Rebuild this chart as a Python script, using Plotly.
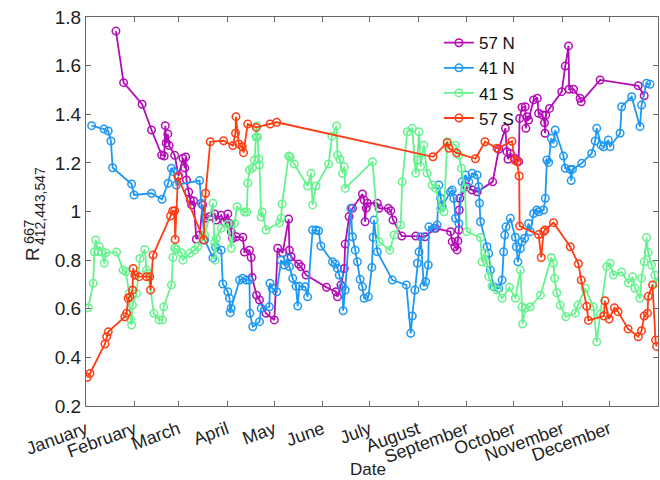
import pandas as pd
import plotly.graph_objects as go

# day offsets from 1 January, and R values
doy_57N = [19.1, 24.0, 35.8, 41.8, 48.3, 49.9, 50.6, 51.2, 52.2, 53.1, 56.6, 59.0, 61.9, 63.0, 63.6, 64.1,
           65.5, 66.6, 67.4, 68.7, 70.4, 72.5, 74.4, 76.3, 78.9, 82.1, 83.1, 86.3, 88.4, 90.5, 91.6, 92.7,
           93.5, 95.9, 100.1, 101.1, 104.3, 105.4, 106.0, 108.8, 110.7, 114.9, 120.2, 122.3, 125.5, 129.3,
           129.8, 130.9, 135.7, 137.2, 140.4, 153.5, 159.5, 160.5, 162.7, 164.8, 165.4, 167.9, 170.0, 176.4,
           177.5, 178.1, 178.8, 179.6, 185.9, 187.0, 192.9, 194.5, 195.9, 201.5, 210.4, 216.3, 223.1, 232.6,
           233.7, 235.4, 236.8, 237.3, 237.9, 238.2, 238.5, 243.2, 246.4, 249.6, 259.5, 263.4, 267.6, 268.6,
           269.3, 270.8, 273.5, 276.1, 276.7, 278.2, 280.3, 280.7, 281.4, 282.4, 285.6, 288.0, 288.8, 291.3,
           292.6, 292.9, 293.4, 295.8, 303.6, 305.8, 307.9, 308.3, 311.1, 315.3, 316.0, 328.1, 352.4, 356.2]
val_57N = [1.742, 1.530, 1.441, 1.335, 1.232, 1.228, 1.353, 1.282, 1.319, 1.271, 1.231, 1.147, 1.219, 1.179,
           1.224, 1.130, 1.080, 1.047, 1.027, 1.043, 0.886, 0.903, 1.027, 0.973, 0.979, 0.990, 0.965, 0.985,
           0.957, 0.990, 0.951, 0.917, 0.890, 0.896, 0.894, 0.833, 0.841, 0.811, 0.729, 0.656, 0.636, 0.581,
           0.554, 0.849, 0.830, 0.969, 0.841, 0.814, 0.784, 0.773, 0.739, 0.688, 0.670, 0.649, 0.698, 0.766,
           0.866, 0.979, 1.013, 1.072, 1.047, 0.958, 1.014, 1.034, 1.034, 1.013, 1.013, 1.003, 0.965, 0.899,
           0.899, 0.896, 0.931, 0.917, 0.876, 0.855, 0.842, 0.879, 0.924, 1.006, 1.054, 1.102, 1.088, 1.081,
           1.122, 1.256, 1.342, 1.246, 1.215, 1.239, 1.219, 1.205, 1.383, 1.429, 1.431, 1.342, 1.390, 1.376,
           1.459, 1.466, 1.404, 1.397, 1.365, 1.322, 1.397, 1.424, 1.493, 1.598, 1.681, 1.503, 1.503, 1.466,
           1.451, 1.541, 1.517, 1.476]

doy_41N = [3.6, 11.5, 14.2, 15.9, 17.0, 29.1, 30.7, 41.8, 48.5, 52.4, 54.5, 56.0, 57.7, 72.5, 73.6, 75.7,
           81.0, 82.7, 86.3, 87.3, 90.5, 91.6, 92.0, 92.6, 98.0, 100.1, 102.2, 104.3, 104.6, 106.4, 110.7,
           111.8, 117.0, 117.4, 118.8, 121.7, 124.5, 126.6, 128.7, 129.8, 131.9, 134.0, 135.1, 136.1, 139.9,
           141.4, 144.6, 146.8, 148.4, 149.9, 157.3, 159.0, 160.5, 161.6, 163.7, 164.1, 165.4, 169.0, 170.0,
           171.8, 173.2, 174.9, 176.4, 177.5, 180.2, 182.4, 183.2, 183.8, 185.9, 195.5, 204.4, 207.2, 208.2,
           209.9, 211.4, 212.5, 213.5, 215.6, 216.7, 218.4, 218.8, 222.0, 224.1, 225.2, 226.3, 227.3, 232.6,
           233.7, 234.7, 235.8, 237.9, 240.0, 242.2, 244.3, 246.4, 249.6, 250.6, 251.1, 251.7, 255.9, 257.0,
           258.1, 260.2, 263.4, 265.5, 266.5, 267.2, 268.0, 270.8, 274.0, 274.6, 275.6, 277.2, 278.2, 279.9,
           282.4, 283.5, 285.6, 287.7, 288.8, 292.0, 293.1, 294.1, 295.2, 296.9, 298.3, 299.4, 304.7, 305.8,
           309.0, 309.6, 310.4, 316.3, 322.7, 324.9, 325.9, 328.7, 330.2, 333.3, 334.4, 340.8, 341.8, 348.2,
           353.5, 354.5, 357.7, 359.9]
val_41N = [1.353, 1.339, 1.331, 1.290, 1.180, 1.113, 1.068, 1.075, 1.050, 1.116, 1.178, 1.164, 1.109, 1.127,
           1.034, 0.883, 0.809, 0.854, 0.841, 0.702, 0.670, 0.643, 0.584, 0.602, 0.718, 0.725, 0.718, 0.718,
           0.581, 0.526, 0.547, 0.602, 0.608, 0.705, 0.684, 0.670, 0.800, 0.780, 0.807, 0.773, 0.725, 0.693,
           0.611, 0.693, 0.690, 0.649, 0.924, 0.924, 0.921, 0.858, 0.793, 0.784, 0.766, 0.739, 0.690, 0.592,
           0.677, 1.013, 0.896, 0.841, 0.793, 0.721, 0.690, 0.643, 0.649, 0.770, 0.894, 0.965, 0.834, 0.718,
           0.698, 0.499, 0.570, 0.677, 0.787, 0.834, 0.896, 0.693, 0.711, 0.780, 0.937, 0.931, 0.944, 1.109,
           1.054, 1.020, 1.081, 1.088, 1.054, 0.972, 0.951, 1.122, 1.150, 1.122, 1.157, 1.150, 1.102, 1.034,
           0.958, 0.855, 0.828, 0.759, 0.691, 0.684, 0.718, 0.834, 0.903, 0.937, 0.972, 0.894, 0.855, 0.793,
           0.848, 0.876, 0.890, 0.951, 0.917, 0.992, 1.006, 0.999, 1.006, 1.054, 1.212, 1.202, 1.301, 1.280,
           1.335, 1.228, 1.178, 1.173, 1.127, 1.173, 1.198, 1.239, 1.290, 1.342, 1.273, 1.266, 1.294, 1.266,
           1.322, 1.431, 1.472, 1.349, 1.438, 1.527, 1.523]

doy_41S = [1.5, 4.6, 5.3, 6.2, 7.8, 8.5, 10.0, 11.6, 12.7, 19.5, 23.7, 25.4, 27.5, 28.4, 29.1, 29.7, 32.3,
           34.4, 37.5, 38.6, 39.6, 43.3, 46.6, 48.8, 49.6, 54.5, 55.5, 56.6, 57.7, 60.9, 61.9, 66.2, 69.3,
           71.4, 74.6, 75.7, 81.0, 82.1, 82.4, 83.1, 86.3, 90.5, 92.7, 94.8, 96.4, 101.1, 102.6, 103.2, 104.3,
           106.2, 107.5, 108.5, 109.0, 109.4, 110.2, 110.7, 111.8, 112.4, 114.9, 123.4, 124.5, 125.1, 129.3,
           130.2, 132.9, 141.4, 143.6, 144.6, 146.8, 154.8, 156.9, 159.9, 160.5, 162.0, 163.7, 164.8, 165.4,
           182.8, 187.0, 193.8, 196.6, 200.8, 201.8, 205.0, 208.2, 210.4, 211.4, 212.5, 213.5, 215.6, 217.7,
           220.9, 223.1, 226.3, 228.4, 230.5, 235.8, 237.9, 239.6, 241.7, 243.0, 251.7, 252.7, 254.5, 255.9,
           257.0, 259.1, 262.3, 265.5, 270.2, 274.0, 277.2, 278.2, 278.6, 280.3, 283.5, 290.0, 296.9, 298.3,
           299.0, 300.4, 302.6, 306.2, 312.2, 313.9, 318.5, 323.8, 325.9, 328.1, 332.3, 334.4, 336.5, 341.8,
           346.1, 348.8, 350.3, 353.5, 354.5, 356.2, 357.7, 358.7, 360.9, 363.0, 364.2]
val_41S = [0.604, 0.705, 0.834, 0.883, 0.834, 0.855, 0.834, 0.787, 0.830, 0.833, 0.759, 0.752, 0.663, 0.556,
           0.533, 0.615, 0.663, 0.807, 0.844, 0.759, 0.746, 0.581, 0.554, 0.554, 0.608, 0.698, 0.811, 0.849,
           0.844, 0.830, 0.800, 0.828, 0.841, 0.855, 0.896, 0.903, 1.034, 0.872, 0.800, 0.890, 0.931, 0.948,
           0.849, 0.951, 1.020, 0.998, 0.998, 1.117, 1.171, 1.179, 1.212, 1.306, 1.352, 1.306, 1.216, 1.191,
           0.977, 0.998, 0.924, 0.953, 0.973, 1.031, 1.228, 1.224, 1.195, 1.105, 1.157, 1.027, 1.105, 1.195,
           1.310, 1.352, 1.232, 1.215, 1.157, 1.184, 1.095, 1.205, 0.876, 0.841, 0.903, 0.944, 1.122, 1.328,
           1.342, 1.157, 1.212, 1.328, 1.184, 1.273, 1.157, 1.109, 1.095, 1.013, 0.999, 1.287, 1.273, 1.232,
           1.178, 1.095, 0.917, 0.893, 0.793, 0.828, 0.787, 0.732, 0.693, 0.677, 0.643, 0.688, 0.643, 0.759,
           0.608, 0.537, 0.602, 0.608, 0.656, 0.811, 0.787, 0.725, 0.666, 0.615, 0.567, 0.582, 0.615, 0.684,
           0.608, 0.464, 0.578, 0.773, 0.787, 0.739, 0.751, 0.706, 0.732, 0.684, 0.643, 0.725, 0.793, 0.893,
           0.831, 0.780, 0.739, 0.706]

doy_57S = [0.8, 2.5, 12.1, 13.2, 14.2, 24.8, 25.9, 26.9, 28.0, 29.7, 30.1, 31.2, 33.9, 38.6, 40.7, 41.2,
           42.8, 53.9, 55.3, 56.6, 56.9, 58.7, 75.1, 76.3, 79.3, 87.8, 93.7, 95.4, 95.7, 97.5, 99.7, 100.5,
           103.2, 108.6, 117.5, 121.7, 221.4, 230.5, 231.6, 236.5, 248.5, 254.6, 262.3, 271.8, 273.5, 275.0,
           276.4, 276.7, 288.8, 290.5, 292.0, 292.9, 298.3, 309.0, 314.2, 316.0, 319.5, 320.6, 330.5, 331.1,
           333.8, 337.2, 339.5, 345.9, 352.4, 354.5, 356.2, 358.3, 358.8, 361.5, 363.4, 364.1]
val_57S = [0.318, 0.334, 0.455, 0.485, 0.505, 0.567, 0.581, 0.643, 0.649, 0.677, 0.766, 0.739, 0.732, 0.732,
           0.732, 0.677, 0.821, 0.981, 1.002, 1.003, 0.885, 1.143, 0.883, 1.075, 1.287, 1.291, 1.271, 1.322,
           1.390, 1.278, 1.266, 1.242, 1.360, 1.346, 1.360, 1.367, 1.225, 1.283, 1.260, 1.241, 1.217, 1.287,
           1.260, 1.289, 1.212, 1.205, 1.146, 0.940, 0.905, 0.811, 0.917, 0.924, 0.954, 0.855, 0.785, 0.718,
           0.610, 0.552, 0.570, 0.633, 0.558, 0.604, 0.588, 0.517, 0.485, 0.510, 0.570, 0.582, 0.651, 0.698,
           0.471, 0.445]

month_ticks = ["January", "February", "March", "April", "May", "June", "July", "August",
               "September", "October", "November", "December", "January"]

series = [
    ("57 N", doy_57N, val_57N, "#B30DB8"),
    ("41 N", doy_41N, val_41N, "#1E98F2"),
    ("41 S", doy_41S, val_41S, "#66F28E"),
    ("57 S", doy_57S, val_57S, "#FF3C12"),
]

base = pd.Timestamp("2015-01-01")
FONT = "Liberation Sans, Arial, sans-serif"

fig = go.Figure()
for name, doy, vals, col in series:
    x = base + pd.to_timedelta(doy, unit="D")
    fig.add_trace(go.Scatter(
        x=x, y=vals, name=name, mode="lines+markers",
        line=dict(color=col, width=1.8),
        marker=dict(symbol="circle-open", size=7.5, color=col, line=dict(width=1.5, color=col)),
    ))

tickvals = pd.date_range("2015-01-01", "2016-01-01", freq="MS")

fig.update_layout(
    width=660, height=480,
    margin=dict(l=86, r=2, t=17, b=74),
    paper_bgcolor="white", plot_bgcolor="white",
    font=dict(family=FONT, size=16, color="#222222"),
    showlegend=True,
    legend=dict(x=0.617, y=0.979, xanchor="left", yanchor="top",
                bgcolor="rgba(0,0,0,0)", font=dict(size=17, color="#111111"),
                itemwidth=30, tracegroupgap=0),
    xaxis=dict(
        range=[base, pd.Timestamp("2016-01-01")], type="date",
        tickmode="array", tickvals=tickvals, ticktext=month_ticks,
        tickangle=-20, ticks="inside", ticklen=5, tickcolor="#666666",
        showline=True, linecolor="#666666", linewidth=1, mirror="ticks",
        showgrid=False, zeroline=False,
        tickfont=dict(size=18), ticklabelstandoff=5,
    ),
    yaxis=dict(
        range=[0.2, 1.8], tickmode="array",
        tickvals=[0.2, 0.4, 0.6, 0.8, 1.0, 1.2, 1.4, 1.6, 1.8],
        ticktext=["0.2", "0.4", "0.6", "0.8", "1", "1.2", "1.4", "1.6", "1.8"],
        ticks="inside", ticklen=5, tickcolor="#666666",
        showline=True, linecolor="#666666", linewidth=1, mirror="ticks",
        showgrid=False, zeroline=False, tickfont=dict(size=19),
    ),
)

def px2paper_x(px):
    return (px - 86) / 572.0

def px2paper_y(py):
    return (406 - py) / 389.0

# x-axis title, placed below the plot area with a pixel shift
fig.add_annotation(text="Date", x=px2paper_x(368), y=0, xref="paper", yref="paper",
                   yshift=-63, showarrow=False, font=dict(size=17, color="#222222"),
                   xanchor="center", yanchor="middle")

# y-axis label: R with stacked superscript and subscript
fig.add_annotation(text="R", x=px2paper_x(32), y=px2paper_y(254), xref="paper", yref="paper",
                   textangle=-90, showarrow=False, font=dict(size=19, color="#222222"),
                   xanchor="center", yanchor="middle")
fig.add_annotation(text="667", x=px2paper_x(29), y=px2paper_y(232), xref="paper", yref="paper",
                   textangle=-90, showarrow=False, font=dict(size=14.5, color="#222222"),
                   xanchor="center", yanchor="middle")
fig.add_annotation(text="412,443,547", x=px2paper_x(40), y=px2paper_y(206), xref="paper", yref="paper",
                   textangle=-90, showarrow=False, font=dict(size=14, color="#222222"),
                   xanchor="center", yanchor="middle")

fig.write_html("out.html")
